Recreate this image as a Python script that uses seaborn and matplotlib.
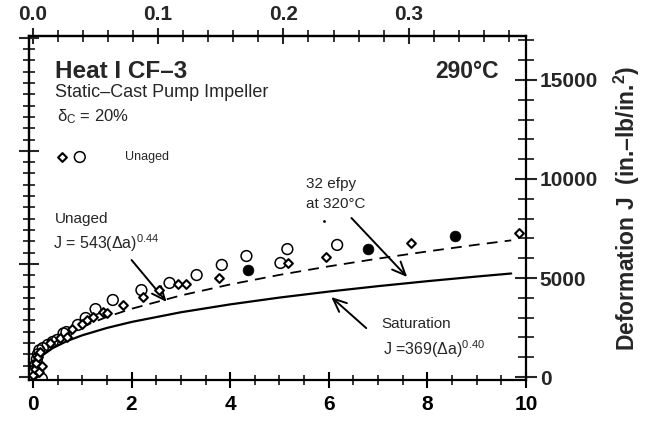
import numpy as np
import pandas as pd
import matplotlib
matplotlib.use("Agg")
import matplotlib.pyplot as plt
import seaborn as sns

# ---------------- data ----------------
# crack extension (mm) and J (in.-lb/in.^2)
circ_x = [0.02, 0.05, 0.08, 0.10, 0.13, 0.18, 0.20, 0.30, 0.40, 0.49, 0.62, 0.68,
          0.91, 1.07, 1.27, 1.62, 2.20, 2.77, 3.32, 3.83, 4.33, 5.02, 5.16, 6.17]
circ_y = [300, 600, 900, 1150, 1350, -80, 1460, 1620, 1770, 1870, 2200, 2270,
          2630, 2980, 3430, 3890, 4390, 4750, 5150, 5660, 6110, 5760, 6460, 6670]

diam_x = [0.00, 0.04, 0.07, 0.10, 0.12, 0.15, 0.18, 0.35, 0.55, 0.69, 0.80, 1.00,
          1.09, 1.22, 1.42, 1.50, 1.82, 2.23, 2.55, 2.95, 3.10, 3.77, 5.18, 5.95,
          7.67, 9.86]
diam_y = [100, 400, 700, 1000, 250, 1250, 550, 1700, 1950, 2020, 2400, 2700,
          2880, 3050, 3280, 3230, 3640, 4040, 4390, 4700, 4700, 5000, 5760, 6060,
          6770, 7270]

fill_x = [4.37, 6.80, 8.56]
fill_y = [5400, 6460, 7120]

speck_x = [5.91]
speck_y = [7880]

# fitted curves, values
dash_x = [0.10, 0.20, 0.40, 0.70, 1.0, 1.5, 2.0, 3.0, 4.0, 5.0, 6.0, 7.0, 8.0, 9.0, 9.7]
dash_y = [922, 1251, 1698, 2171, 2540, 3036, 3446, 4119, 4675, 5157, 5588, 5980,
          6342, 6681, 6901]

sat_x = [0.0, 0.02, 0.05, 0.10, 0.20, 0.40, 0.70, 1.0, 1.5, 2.0, 3.0, 4.0, 5.0,
         6.0, 7.0, 8.0, 9.0, 9.7]
sat_y = [0, 440, 636, 839, 1106, 1460, 1827, 2107, 2478, 2781, 3270, 3668, 4012,
         4315, 4589, 4840, 5074, 5228]

bottom_ticks = [0, 2, 4, 6, 8, 10]
top_ticks = [0.0, 0.1, 0.2, 0.3]
right_ticks = [0, 5000, 10000, 15000]
left_ticks = [0, 1000, 2000, 3000]
KJ_TO_INLB = 5.71

# ---------------- style ----------------
sns.set_theme(style="white")
plt.rcParams["font.family"] = ["Liberation Sans", "DejaVu Sans"]
plt.rcParams["mathtext.fontset"] = "custom"
plt.rcParams["mathtext.rm"] = "Liberation Sans"
plt.rcParams["mathtext.it"] = "Liberation Sans:italic"
plt.rcParams["mathtext.bf"] = "Liberation Sans:bold"

fig = plt.figure(figsize=(6.51, 4.21), dpi=100)
ax = fig.add_axes([29 / 651, 1 - 380 / 421, (526 - 29) / 651, (380 - 36) / 421])

# curves
sns.lineplot(x=dash_x, y=dash_y, ax=ax, color="black", lw=1.3, sort=False,
             dashes=False, linestyle=(0, (6, 4)))
sns.lineplot(x=sat_x, y=sat_y, ax=ax, color="black", lw=1.6, sort=False)

# points
sns.scatterplot(x=circ_x, y=circ_y, ax=ax, marker="o", s=60,
                color="black", linewidth=1.1, zorder=5)
coll_c = ax.collections[-1]
coll_c.set_facecolor("none")
coll_c.set_edgecolor("black")

sns.scatterplot(x=diam_x, y=diam_y, ax=ax, marker="D", s=20,
                color="black", linewidth=1.5, zorder=5)
coll_d = ax.collections[-1]
coll_d.set_facecolor("white")
coll_d.set_edgecolor("black")

sns.scatterplot(x=fill_x, y=fill_y, ax=ax, marker="o", s=60,
                color="black", edgecolor="black", linewidth=0.5, zorder=5)
sns.scatterplot(x=speck_x, y=speck_y, ax=ax, marker="o", s=4,
                color="black", linewidth=0, zorder=5)

# legend-like markers
ax.scatter([0.59], [11110], marker="D", s=20, facecolor="white",
           edgecolor="black", linewidth=1.5, zorder=5)
ax.scatter([0.95], [11110], marker="o", s=60, facecolor="none",
           edgecolor="black", linewidth=1.1, zorder=5)

# ---------------- axes ----------------
ax.set_xlim(-0.08, 10.0)
ax.set_ylim(-150, 17220)
for s in ax.spines.values():
    s.set_linewidth(1.6)
    s.set_color("black")

ax.set_xticks(bottom_ticks)
ax.set_xticks(np.arange(0, 10.01, 0.5), minor=True)
ax.set_xticklabels([str(t) for t in bottom_ticks], fontweight="bold", fontsize=15)
ax.tick_params(axis="x", which="major", direction="inout", length=11, width=1.5,
               pad=5, colors="black", bottom=True)
ax.tick_params(axis="x", which="minor", direction="inout", length=7, width=1.3,
               bottom=True)

ax.yaxis.set_ticks_position("right")
ax.yaxis.set_label_position("right")
ax.set_yticks(right_ticks)
ax.set_yticks(np.arange(0, 17001, 1000), minor=True)
ax.set_yticklabels([str(t) for t in right_ticks], fontweight="bold", fontsize=15)
ax.tick_params(axis="y", which="major", direction="inout", length=16, width=1.5,
               pad=2, right=True, left=False)
ax.tick_params(axis="y", which="minor", direction="inout", length=11, width=1.3,
               right=True, left=False)
ax.set_ylabel("Deformation J  (in.\u2013lb/in.$^{\\mathbf{2}}$)", fontweight="bold",
              fontsize=16.5, labelpad=10)
ax.set_xlabel("")

top = ax.secondary_xaxis("top", functions=(lambda x: x / 25.4, lambda x: x * 25.4))
top.set_xticks(top_ticks)
top.set_xticks(np.arange(0, 0.395, 0.02), minor=True)
top.set_xticklabels(["0.0", "0.1", "0.2", "0.3"], fontweight="bold", fontsize=15)
top.tick_params(axis="x", which="major", direction="inout", length=11, width=1.5, pad=3)
top.tick_params(axis="x", which="minor", direction="inout", length=8, width=1.3)
for s in top.spines.values():
    s.set_linewidth(1.6)

left = ax.secondary_yaxis("left", functions=(lambda y: y / KJ_TO_INLB,
                                             lambda y: y * KJ_TO_INLB))
left.set_yticks(left_ticks)
left.set_yticks(np.arange(0, 3001, 100), minor=True)
left.set_yticklabels([])
left.tick_params(axis="y", which="major", direction="inout", length=15, width=1.5)
left.tick_params(axis="y", which="minor", direction="inout", length=9, width=1.3)
for s in left.spines.values():
    s.set_linewidth(1.6)

# ---------------- text ----------------
ax.text(0.445, 15100, "Heat I CF\u20133", fontsize=17.5, fontweight="bold", va="baseline")
ax.text(0.445, 14140, "Static\u2013Cast Pump Impeller", fontsize=13, va="baseline")
ax.text(0.49, 12930, "\u03b4$_\\mathregular{C}$ = 20%", fontsize=12, va="baseline")
ax.text(9.45, 15100, "290\u00b0C", fontsize=16.5, fontweight="bold", va="baseline", ha="right")
ax.text(1.86, 11110, "Unaged", fontsize=9, va="center")

ax.text(0.445, 7780, "Unaged", fontsize=11, va="baseline")
ax.text(0.405, 6460, "J = 543(\u0394a)$^{0.44}$", fontsize=11.5, va="baseline")
ax.text(5.53, 9550, "32 efpy", fontsize=11, va="baseline")
ax.text(5.53, 8540, "at 320\u00b0C", fontsize=11, va="baseline")
ax.text(7.06, 2470, "Saturation", fontsize=11, va="baseline")
ax.text(7.10, 1110, "J =369(\u0394a)$^{0.40}$", fontsize=11.5, va="baseline")

arrow = dict(arrowstyle="->,head_length=0.8,head_width=0.35", color="black", lw=1.4,
             shrinkA=0, shrinkB=0)
ax.annotate("", xy=(2.71, 3790), xytext=(2.0, 5910), arrowprops=arrow)
ax.annotate("", xy=(7.59, 5050), xytext=(6.46, 8030), arrowprops=arrow)
ax.annotate("", xy=(6.05, 4040), xytext=(6.76, 2470), arrowprops=arrow)

fig.savefig("out.png", dpi=100)
